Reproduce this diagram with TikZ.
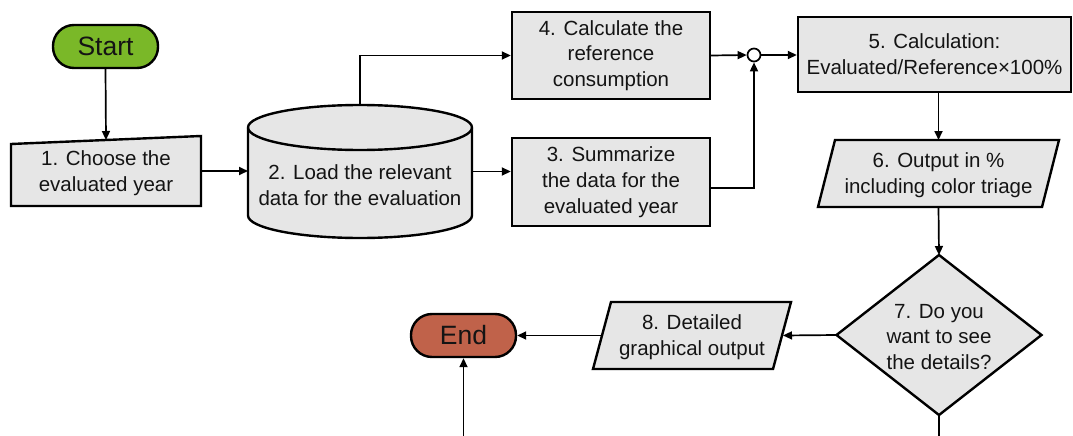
\documentclass[tikz,border=0pt]{standalone}
\usepackage{fontspec}
\setmainfont{Liberation Sans}
\usetikzlibrary{arrows.meta,calc}
\definecolor{boxgray}{HTML}{E6E6E6}
\definecolor{startgreen}{HTML}{7AB828}
\definecolor{endred}{HTML}{C0624A}
\definecolor{txt}{HTML}{141414}
\begin{document}
\begin{tikzpicture}[x=1pt,y=-1pt,
  shp/.style={draw=black, fill=boxgray, line width=2.4pt, line join=miter},
  lbl/.style={font=\fontsize{20.5}{25.8}\selectfont, text=txt, align=center, inner sep=0pt},
  frame/.style={draw=none, inner sep=0pt, outer sep=0pt},
  term/.style={rectangle, rounded corners=21pt, draw=black, line width=2.4pt, minimum width=105pt, minimum height=43pt, inner sep=0pt, font=\fontsize{26.5}{30}\selectfont, text=txt},
  proc/.style={draw=black, fill=boxgray, line width=2.4pt, rectangle, minimum width=198pt, minimum height=87pt, inner sep=0pt, font=\fontsize{20.5}{25.8}\selectfont, text=txt, align=center},
  conn/.style={line width=1.7pt, -{Triangle[length=9pt,width=8pt]}},
  plain/.style={line width=1.7pt}
]
\useasboundingbox (0,0) rectangle (1073,436);

% Start
\node[term, fill=startgreen] (start) at (105.5,46.5) {Start};

% 1. manual input
\node[frame, minimum width=190pt, minimum height=70pt] (n1) at (106,171) {};
\draw[shp] (n1.south west) -- ($(n1.north west)+(0,8)$) -- (n1.north east) -- (n1.south east) -- cycle;
\node[lbl] (n1t) at (106,173) {1. Choose the\\evaluated year};
\coordinate (n1top) at ($(n1.north)+(0,4)$);

% 2. cylinder
\node[frame, minimum width=224pt, minimum height=133pt] (cyl) at (360,171.5) {};
\draw[shp] ($(cyl.north west)+(0,22.5)$) -- ($(cyl.south west)+(0,-22.5)$)
  arc[start angle=180, end angle=360, x radius=112pt, y radius=22.5pt]
  -- ($(cyl.north east)+(0,22.5)$)
  arc[start angle=0, end angle=180, x radius=112pt, y radius=22.5pt] -- cycle;
\draw[line width=2.4pt] ($(cyl.north west)+(0,22.5)$)
  arc[start angle=180, end angle=360, x radius=112pt, y radius=22.5pt];
\node[lbl] (cylt) at (360,185) {2. Load the relevant\\data for the evaluation};

% 4 and 3
\node[proc] (b4) at (611,55.5) {4. Calculate the\\reference\\consumption};
\node[proc, minimum height=88pt] (b3) at (611,182) {3. Summarize\\the data for the\\evaluated year};

% junction
\node[circle, draw=black, line width=1.7pt, fill=white, minimum size=13pt, inner sep=0pt] (j) at (754,55) {};

% 5
\node[proc, minimum width=273pt, minimum height=75pt] (b5) at (934.5,54.5) {5. Calculation:\\Evaluated/Reference×100\%};

% 6 parallelogram
\node[frame, minimum width=241pt, minimum height=67pt] (b6) at (938.5,173.5) {};
\draw[shp] (b6.south west) -- ($(b6.north west)+(17,0)$) -- (b6.north east) -- ($(b6.south east)+(-17,0)$) -- cycle;
\node[lbl] (b6t) at (938.5,175.5) {6. Output in \%\\including color triage};

% 7 diamond
\node[frame, minimum width=205pt, minimum height=160pt] (d7) at (939,335) {};
\draw[shp] (d7.north) -- (d7.east) -- (d7.south) -- (d7.west) -- cycle;
\node[lbl] (d7t) at (939,337) {7. Do you\\want to see\\the details?};

% 8 parallelogram
\node[frame, minimum width=198pt, minimum height=67pt] (b8) at (692,335.5) {};
\draw[shp] (b8.south west) -- ($(b8.north west)+(18,0)$) -- (b8.north east) -- ($(b8.south east)+(-18,0)$) -- cycle;
\node[lbl] (b8t) at (692,337.5) {8. Detailed\\graphical output};

% End
\node[term, fill=endred] (end) at (463.5,335.5) {End};

\coordinate (bot7) at (939,436);
\coordinate (botE) at (463.5,436);

% connectors
\draw[conn] (start.south) -- (n1top);
\draw[conn] (n1.east) -- (n1.east -| cyl.west);
\draw[conn] (cyl.north) |- (b4.west);
\draw[conn] (cyl.east) -- (cyl.east -| b3.west);
\draw[conn] (b4.east) -- (j.west);
\draw[conn] ($(b3.east)+(0,6)$) -| (j.south);
\draw[conn] (j.east) -- (j.east -| b5.west);
\draw[conn] (b5.south -| b6.north) -- (b6.north);
\draw[conn] (b6.south) -- (d7.north);
\draw[conn] (d7.west) -- ($(b8.east)+(-8,0)$);
\draw[conn] ($(b8.west)+(9,0)$) -- (end.east);
\draw[plain] (d7.south) -- (bot7);
\draw[conn] (botE) -- (end.south);
\end{tikzpicture}
\end{document}
